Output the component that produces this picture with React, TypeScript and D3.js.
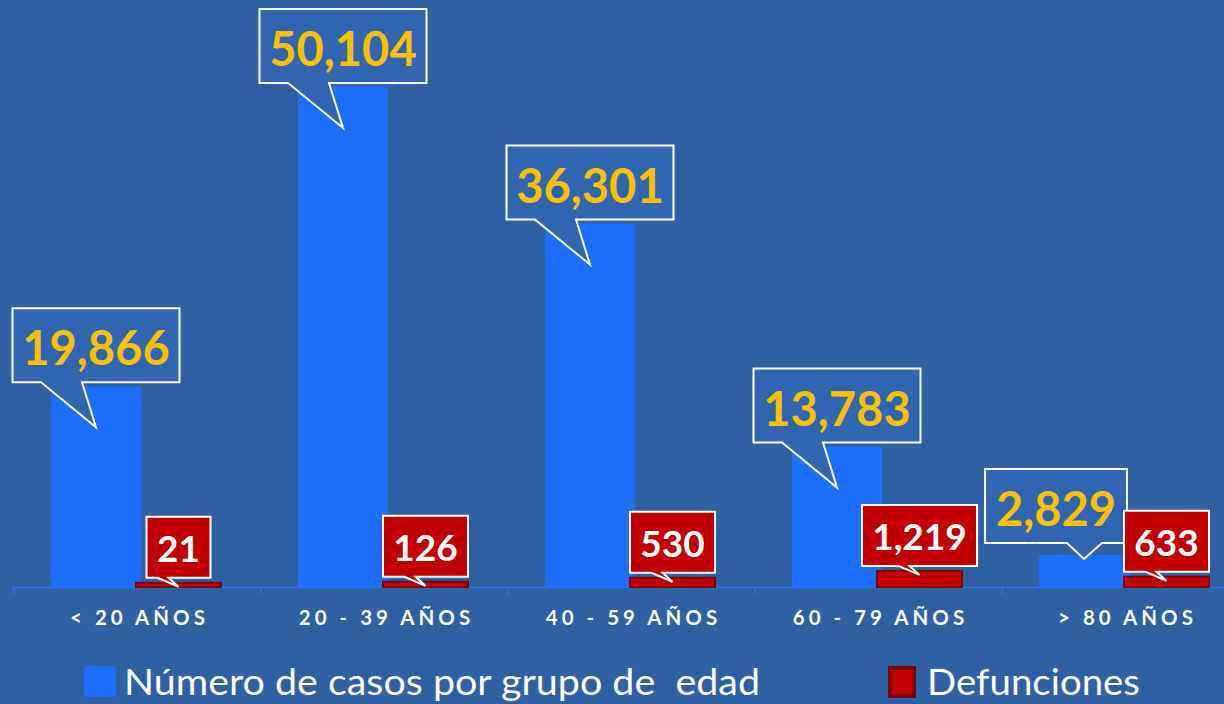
import React from "react";
import * as d3 from "d3";

const categories = ["< 20 AÑOS", "20 - 39 AÑOS", "40 - 59 AÑOS", "60 - 79 AÑOS", "> 80 AÑOS"];
const casos = [19866, 50104, 36301, 13783, 2829];
const defunciones = [21, 126, 530, 1219, 633];
const seriesNames = ["Número de casos por grupo de  edad", "Defunciones"];

const W = 1224;
const H = 704;
const BG = "#2E61A1";
const BLUE = "#1F6FFF";
const RED = "#C00000";
const DARKRED = "#7F0000";
const GOLD = "#FFC000";
const CALLOUT_BLUE = "#2F66AF";
const FONT = "Lato, 'Open Sans', sans-serif";

const fmt = d3.format(",");

function calloutPath(left: number, top: number, w: number, h: number, tipX: number, tipY: number, b1: number, b2: number) {
  const right = left + w;
  const bottom = top + h;
  return `M${left},${top}H${right}V${bottom}H${b2}L${tipX},${tipY}L${b1},${bottom}H${left}Z`;
}

export default function App() {
  const x = d3.scaleBand<string>().domain(categories).range([14, 14 + 247 * 5]).padding(0);
  const inner = d3.scaleBand<string>().domain(["c", "d"]).range([37, 209]);
  const y = d3.scaleLinear().domain([0, 55000]).range([583, 38.5]);
  const base = 587;

  const blueW = inner.bandwidth() + 4;
  const redW = inner.bandwidth() + 1;

  const blueWidth = (s: string) => {
    const digits = s.replace(/,/g, "").length;
    const commas = s.length - digits;
    return digits * 25 + commas * 12 + 30;
  };
  const redWidth = (s: string) => {
    const digits = s.replace(/,/g, "").length;
    const commas = s.length - digits;
    return digits * 21 + commas * 9 + 22;
  };

  return (
    <svg width={W} height={H} style={{ position: "absolute", left: 0, top: 0 }} fontFamily={FONT}>
      <rect x={0} y={0} width={W} height={H} fill={BG} />

      {/* axis line and ticks */}
      <line x1={14} x2={W} y1={base + 0.5} y2={base + 0.5} stroke="#2A72F5" strokeWidth={1.5} />
      {d3.range(categories.length + 1).map((i) => {
        const tx = 14 + i * x.step();
        return <line key={i} x1={tx} x2={tx} y1={base} y2={base + 7} stroke="#2A72F5" strokeWidth={1.5} />;
      })}

      {/* blue bars */}
      {categories.map((c, i) => {
        const bx = (x(c) as number) + (inner("c") as number);
        const top = y(casos[i]);
        const r = 3;
        const d = `M${bx},${base}V${top + r}Q${bx},${top} ${bx + r},${top}H${bx + blueW - r}Q${bx + blueW},${top} ${bx + blueW},${top + r}V${base}Z`;
        return <path key={c} d={d} fill={BLUE} />;
      })}

      {/* red bars */}
      {categories.map((c, i) => {
        const bx = (x(c) as number) + (inner("d") as number) - 2;
        const top = y(defunciones[i]);
        return (
          <rect key={c} x={bx + 1} y={top} width={redW - 2} height={Math.max(base - top, 0.5)} fill={RED} stroke={DARKRED} strokeWidth={2} />
        );
      })}

      {/* blue callouts */}
      {categories.map((c, i) => {
        const label = fmt(casos[i]);
        const cx = (x(c) as number) + (inner("c") as number) + blueW / 2;
        const top = y(casos[i]);
        const w = blueWidth(label);
        const h = 74;
        const last = i === categories.length - 1;
        const tipX = cx;
        const tipY = last ? top + 4 : top + 41;
        const boxCx = last ? cx - 28 : cx;
        const boxBottom = last ? tipY - 16 : tipY - 45;
        const left = boxCx - w / 2;
        const boxTop = boxBottom - h;
        const b1 = last ? cx - 17 : cx - 55;
        const b2 = last ? cx + 18 : cx - 14;
        return (
          <g key={c}>
            <path d={calloutPath(left, boxTop, w, h, tipX, tipY, b1, b2)} fill={CALLOUT_BLUE} stroke="#FFFFFF" strokeWidth={2} strokeLinejoin="miter" />
            <text x={boxCx} y={boxTop + 57} textAnchor="middle" fill={GOLD} fontWeight={700} fontSize={47}>
              {label}
            </text>
          </g>
        );
      })}

      {/* red callouts */}
      {categories.map((c, i) => {
        const label = fmt(defunciones[i]);
        const cx = (x(c) as number) + (inner("d") as number) - 2 + redW / 2;
        const tipY = y(defunciones[i]) + 4;
        const w = redWidth(label);
        const h = 61;
        const boxBottom = tipY - 9;
        const boxTop = boxBottom - h;
        const left = cx - w / 2;
        return (
          <g key={c}>
            <path d={calloutPath(left, boxTop, w, h, cx, tipY, cx - 21, cx - 10)} fill={RED} stroke="#FFFFFF" strokeWidth={2} />
            <text x={cx} y={boxTop + 45} textAnchor="middle" fill="#FFFFFF" fontWeight={700} fontSize={37}>
              {label}
            </text>
          </g>
        );
      })}

      {/* category labels */}
      {categories.map((c) => (
        <text
          key={c}
          x={(x(c) as number) + x.bandwidth() / 2 + 2}
          y={625}
          textAnchor="middle"
          fill="#FFFFFF"
          fontWeight={700}
          fontSize={20.5}
          letterSpacing={4}
        >
          {c}
        </text>
      ))}

      {/* legend */}
      <rect x={84} y={666} width={32} height={31} rx={4} fill={BLUE} />
      <text x={124} y={695} fill="#FFFFFF" fontSize={36} textLength={636} lengthAdjust="spacingAndGlyphs" style={{ whiteSpace: "pre" }}>
        {seriesNames[0]}
      </text>
      <rect x={890} y={668} width={24} height={28} fill={RED} stroke={DARKRED} strokeWidth={4} />
      <text x={927} y={695} fill="#FFFFFF" fontSize={36} textLength={213} lengthAdjust="spacingAndGlyphs">
        {seriesNames[1]}
      </text>
    </svg>
  );
}
